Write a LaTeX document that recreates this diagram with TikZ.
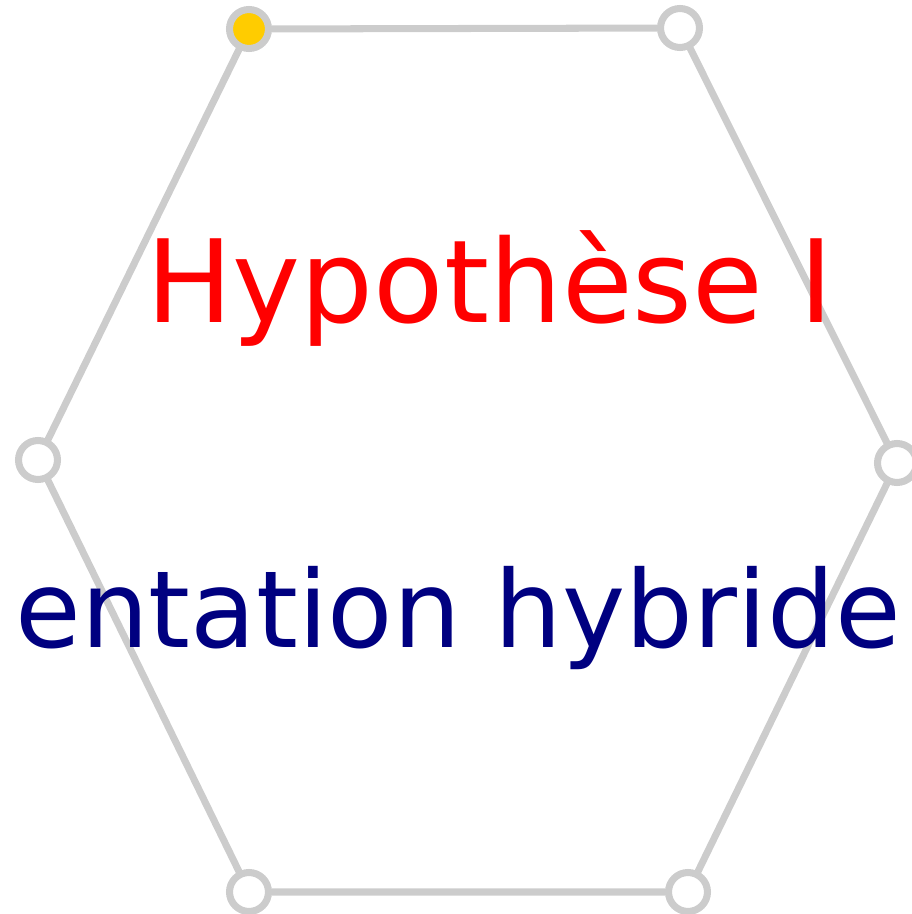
\documentclass[tikz,border=0pt]{standalone}
\usepackage{fontspec}
\setmainfont{DejaVu Sans}
\usepackage{xcolor}
\definecolor{mygray}{RGB}{204,204,204}
\definecolor{myred}{RGB}{255,0,0}
\definecolor{myblue}{RGB}{0,0,128}
\definecolor{mygold}{RGB}{255,204,0}

\begin{document}
\begin{tikzpicture}[line width=2pt,line cap=round]
	\tikzstyle{bai}=[circle,draw=mygray,inner sep=0pt,minimum size=3.9mm,fill=white];
	\tikzstyle{jin}=[bai,fill=mygold];
	\tikzstyle{wenzi}=[inner sep=0pt,anchor=base];
	\useasboundingbox (0,0) rectangle (9.12,9.14);
	%% Vertices
	\node[jin] (TL) at (2.49,8.85) {};
	\node[bai] (TR) at (6.80,8.86) {};
	\node[bai] (R)  at (8.97,4.51) {};
	\node[bai] (BR) at (6.88,0.22) {};
	\node[bai] (BL) at (2.49,0.22) {};
	\node[bai] (L)  at (0.38,4.54) {};
	%% Edges
	\draw[mygray] (TL) -- (TR) -- (R) -- (BR) -- (BL) -- (L) -- (TL);
	%% Texts
	\node[wenzi,text=myred,font=\fontsize{32.7}{38}\selectfont]  (titre) at (4.90,5.92) {Hypothèse I};
	\node[wenzi,text=myblue,font=\fontsize{30.4}{38}\selectfont] (sous)  at (4.58,2.66) {entation hybride};
\end{tikzpicture}
\end{document}
